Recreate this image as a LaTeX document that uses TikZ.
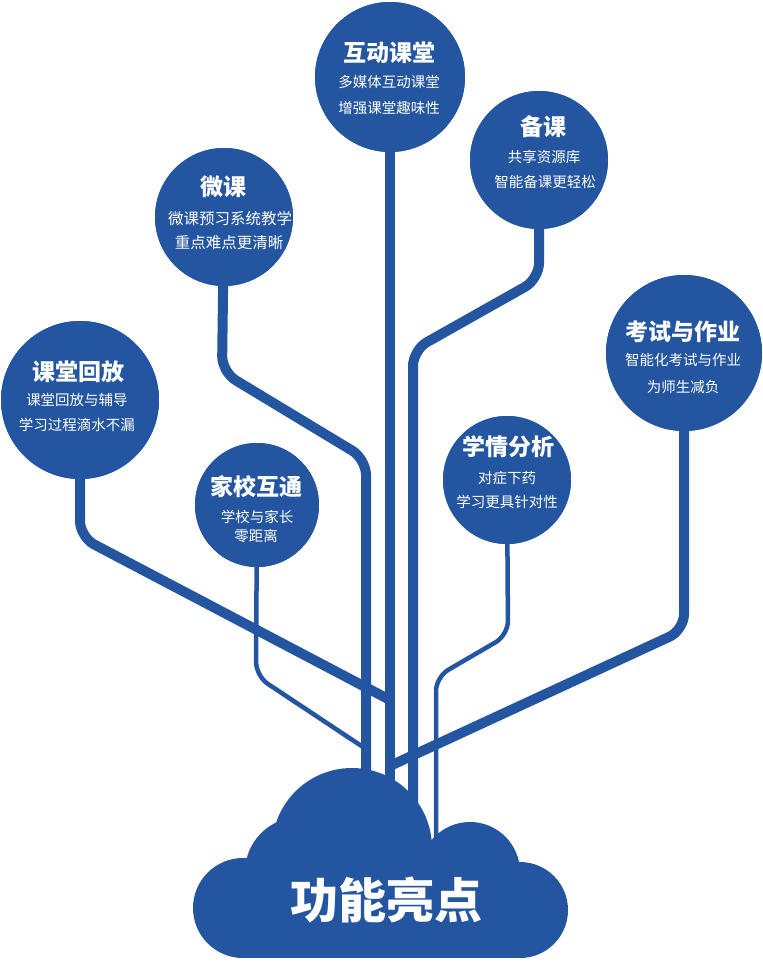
\documentclass[tikz,border=0pt]{standalone}
\usepackage{fontspec}
\newfontfamily\cjk{Noto Sans CJK SC}
\definecolor{blu}{HTML}{2355A0}
\begin{document}
\begin{tikzpicture}[x=1pt,y=-1pt,
  bubble/.style={circle, fill=blu, draw=none, inner sep=0pt},
  trunk/.style={draw=blu, line width=10pt, rounded corners=16pt},
  twig/.style={draw=blu, line width=4.5pt, rounded corners=14pt},
  puff/.style={fill=blu},
  ttl/.style={text=white, inner sep=0pt, font=\cjk\bfseries\fontsize{23}{23}\selectfont},
  sub/.style={text=white, inner sep=0pt, font=\cjk\fontsize{14.5}{14.5}\selectfont},
  big/.style={text=white, inner sep=0pt, font=\cjk\bfseries\fontsize{48}{48}\selectfont}]
\useasboundingbox (0,0) rectangle (763,964);
% bubbles (positions)
\node[bubble, minimum size=150pt] (hd) at (390,77) {};
\node[bubble, minimum size=138pt] (bk) at (539,160) {};
\node[bubble, minimum size=138pt] (wk) at (224,217) {};
\node[bubble, minimum size=156pt] (ks) at (684,353) {};
\node[bubble, minimum size=158pt] (hf) at (80,400) {};
\node[bubble, minimum size=124pt] (jx) at (257,505) {};
\node[bubble, minimum size=128pt] (xq) at (507,480) {};
% end points inside the cloud
\coordinate (eHd) at (390,850);
\coordinate (eBk) at (413,850);
\coordinate (eWk) at (366,850);
\coordinate (eXq) at (436,860);
\coordinate (eHf) at (390,700);
\coordinate (eKs) at (392,765);
\coordinate (eJx) at (366,749);
% connectors
\path[trunk] (hd.center) -- (eHd);
\path[trunk] (bk.center) -- (539,279) -- (413,350) -- (eBk);
\path[trunk] (wk.center) -- (222,372) -- (366,459) -- (eWk);
\path[trunk] (hf.center) -- (80,537) -- (eHf);
\path[trunk] (ks.center) -- (684,630) -- (eKs);
\path[twig] (xq.center) -- (508,635) -- (436,677) -- (eXq);
\path[twig] (jx.center) -- (256,676) -- (eJx);
% redraw bubbles on top
\foreach \n/\r in {hd/75,bk/69,wk/69,ks/78,hf/79,jx/62,xq/64}
  \fill[blu] (\n.center) circle[radius=\r];
% cloud
\fill[puff] (243,908) circle[radius=50];
\fill[puff] (300,872) circle[radius=55];
\fill[puff] (352,848) circle[radius=80];
\fill[puff] (470,872) circle[radius=50];
\fill[puff] (520,910) circle[radius=48];
\fill[puff] (243,880) rectangle (520,958);
\node[big] (cloud) at (386,900) {功能亮点};
% texts
\node[ttl] (hdT) at (389,53) {互动课堂};
\node[sub] (hdA) at (389,82) {多媒体互动课堂};
\node[sub] (hdB) at (389,108) {增强课堂趣味性};
\node[ttl] (bkT) at (543,127) {备课};
\node[sub] (bkA) at (544,157) {共享资源库};
\node[sub] (bkB) at (545,182) {智能备课更轻松};
\node[ttl] (wkT) at (223,187) {微课};
\node[sub, font=\cjk\fontsize{15.5}{15.5}\selectfont] (wkA) at (230,219) {微课预习系统教学};
\node[sub, font=\cjk\fontsize{15.5}{15.5}\selectfont] (wkB) at (229,243) {重点难点更清晰};
\node[ttl] (ksT) at (683,332) {考试与作业};
\node[sub] (ksA) at (683,360) {智能化考试与作业};
\node[sub] (ksB) at (683,387) {为师生减负};
\node[ttl] (hfT) at (78,372) {课堂回放};
\node[sub] (hfA) at (77,400) {课堂回放与辅导};
\node[sub] (hfB) at (77,425) {学习过程滴水不漏};
\node[ttl] (jxT) at (256,487) {家校互通};
\node[sub] (jxA) at (257,517) {学校与家长};
\node[sub] (jxB) at (256,536) {零距离};
\node[ttl] (xqT) at (508,447) {学情分析};
\node[sub] (xqA) at (507,478) {对症下药};
\node[sub] (xqB) at (507,502) {学习更具针对性};
\end{tikzpicture}
\end{document}
